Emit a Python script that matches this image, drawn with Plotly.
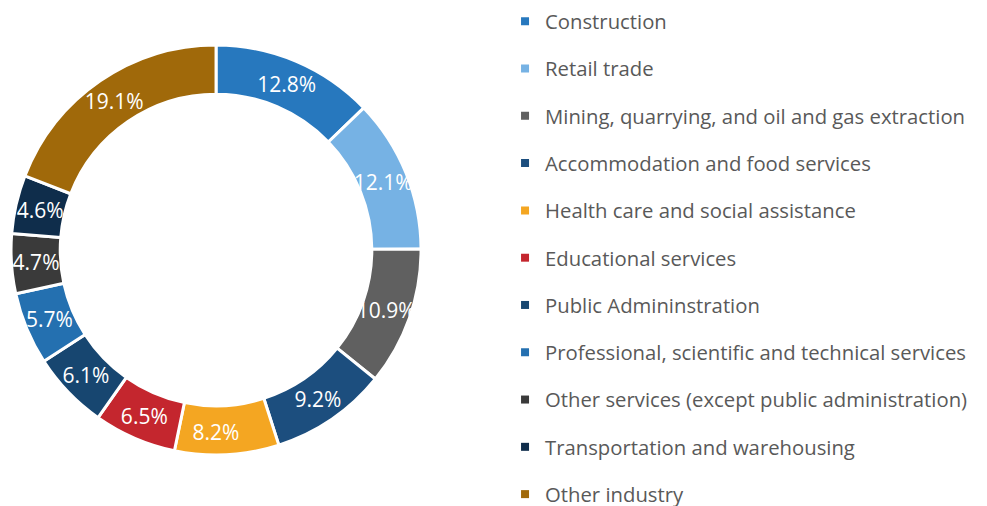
import plotly.graph_objects as go

industries = [
    "Construction",
    "Retail trade",
    "Mining, quarrying, and oil and gas extraction",
    "Accommodation and food services",
    "Health care and social assistance",
    "Educational services",
    "Public Admininstration",
    "Professional, scientific and technical services",
    "Other services (except public administration)",
    "Transportation and warehousing",
    "Other industry",
]
shares = [12.8, 12.1, 10.9, 9.2, 8.2, 6.5, 6.1, 5.7, 4.7, 4.6, 19.1]
colors = ["#2778BE", "#76B2E4", "#606060", "#1C4E7E", "#F4A622", "#C4262E",
          "#174670", "#2470B0", "#3A3A3A", "#0F2D4B", "#A0690A"]

FONT = "Open Sans, sans-serif"

fig = go.Figure()

fig.add_trace(go.Pie(
    labels=industries,
    values=shares,
    text=[f"{v}%" for v in shares],
    textinfo="text",
    textposition="inside",
    insidetextorientation="horizontal",
    textfont=dict(color="white", size=21, family=FONT),
    marker=dict(colors=colors, line=dict(color="white", width=3)),
    hole=0.76,
    sort=False,
    direction="clockwise",
    rotation=0,
    showlegend=False,
    domain=dict(x=[0.0031, 0.4219], y=[0.1024, 0.9257]),
))

# legend entries (one group each so the spacing can be set)
for name, c in zip(industries, colors):
    fig.add_trace(go.Scatter(
        x=[None], y=[None], mode="markers", name=name,
        marker=dict(symbol="square", size=8, color=c),
        legendgroup=name, showlegend=True,
    ))

# page body has an 8px margin, so the figure is 8px smaller each way
fig.update_layout(
    width=979, height=498,
    margin=dict(l=0, r=0, t=0, b=0, autoexpand=False),
    paper_bgcolor="white", plot_bgcolor="white",
    xaxis=dict(visible=False), yaxis=dict(visible=False),
    uniformtext=dict(minsize=21, mode="show"),
    legend=dict(
        x=0.5077, y=1.013, xanchor="left", yanchor="top",
        font=dict(size=20.3, color="#595959", family=FONT),
        tracegroupgap=17.9, itemclick=False, maxheight=800,
    ),
)

fig.write_html("out.html")
